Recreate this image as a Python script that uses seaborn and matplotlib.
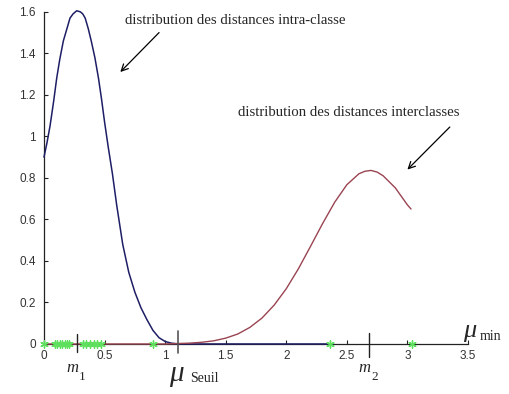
import numpy as np
import pandas as pd
import matplotlib
matplotlib.use("Agg")
import matplotlib.pyplot as plt
import seaborn as sns

# intra-class distance distribution
x_intra = [0.0, 0.025, 0.05, 0.08, 0.105, 0.13, 0.16, 0.19, 0.215, 0.24, 0.27, 0.30,
           0.32, 0.34, 0.365, 0.39, 0.42, 0.45, 0.475, 0.50, 0.53, 0.565, 0.60,
           0.65, 0.70, 0.75, 0.80, 0.85, 0.90, 0.95, 1.00, 1.05, 1.11, 1.5, 2.0, 2.39]
y_intra = [0.90, 0.97, 1.05, 1.17, 1.28, 1.37, 1.46, 1.52, 1.57, 1.59, 1.605, 1.60,
           1.59, 1.57, 1.52, 1.46, 1.38, 1.28, 1.18, 1.07, 0.95, 0.82, 0.67,
           0.48, 0.345, 0.25, 0.175, 0.117, 0.065, 0.03, 0.012, 0.004, 0.0, 0.0, 0.0, 0.0]

# inter-class distance distribution
x_inter = [0.0, 0.5, 1.0, 1.1, 1.2, 1.3, 1.4, 1.5, 1.6, 1.7, 1.8, 1.9, 2.0, 2.1,
           2.2, 2.3, 2.4, 2.5, 2.6, 2.65, 2.7, 2.75, 2.8, 2.9, 3.0, 3.03]
y_inter = [0.0, 0.0, 0.0, 0.002, 0.004, 0.008, 0.015, 0.028, 0.048, 0.08, 0.125,
           0.187, 0.266, 0.362, 0.47, 0.58, 0.683, 0.767, 0.82, 0.832, 0.836, 0.828,
           0.81, 0.752, 0.67, 0.65]

# observed samples on the axis
samples = [0.0, 0.09, 0.11, 0.13, 0.15, 0.17, 0.19, 0.21, 0.32, 0.35, 0.38, 0.41,
           0.44, 0.47, 0.90, 2.36, 3.04]

m1 = 0.27
m2 = 2.68
seuil = 1.11

xticks = [0, 0.5, 1, 1.5, 2, 2.5, 3, 3.5]
xticklabels = ["0", "0.5", "1", "1.5", "2", "2.5", "3", "3.5"]
yticks = [0, 0.2, 0.4, 0.6, 0.8, 1, 1.2, 1.4, 1.6]
yticklabels = ["0", "0.2", "0.4", "0.6", "0.8", "1", "1.2", "1.4", "1.6"]

sns.set_style("ticks")
plt.rcParams["font.family"] = ["Liberation Sans", "DejaVu Sans"]

fig = plt.figure(figsize=(5.09, 3.94), dpi=100)
ax = fig.add_axes([0.0864, 0.127, 0.833, 0.843])

df_intra = pd.DataFrame({"x": x_intra, "y": y_intra})
df_inter = pd.DataFrame({"x": x_inter, "y": y_inter})
df_s = pd.DataFrame({"x": samples, "y": np.zeros(len(samples))})

sns.lineplot(data=df_intra, x="x", y="y", ax=ax, color="#1e1e66", linewidth=1.1,
             sort=False, estimator=None, zorder=3)
sns.lineplot(data=df_inter, x="x", y="y", ax=ax, color="#9a4452", linewidth=1.0,
             sort=False, estimator=None, zorder=4)
for ln in ax.lines:
    ln.set_clip_on(False)
sns.scatterplot(data=df_s, x="x", y="y", ax=ax, marker=(6, 2, 0), s=28,
                color="#5ee05e", linewidth=1.0, zorder=5, clip_on=False)

ax.set_xlim(0, 3.5)
ax.set_ylim(0, 1.6)
ax.set_xticks(xticks)
ax.set_xticklabels(xticklabels)
ax.set_yticks(yticks)
ax.set_yticklabels(yticklabels)
ax.set_xlabel("")
ax.set_ylabel("")
ax.tick_params(direction="in", length=3, width=0.8, labelsize=8.5,
               labelcolor="#333333", color="#222222")
ax.tick_params(axis="x", pad=4)
ax.tick_params(axis="y", pad=6)
for side in ["top", "right"]:
    ax.spines[side].set_visible(False)
for side in ["left", "bottom"]:
    ax.spines[side].set_linewidth(0.9)
    ax.spines[side].set_color("#222222")

# markers for m1, m2 and the threshold
ax.plot([m1, m1], [-0.039, 0.049], color="#222222", lw=1.0, clip_on=False, zorder=6)
ax.plot([seuil, seuil], [-0.044, 0.063], color="#555555", lw=1.2, clip_on=False, zorder=6)
ax.plot([m2, m2], [-0.063, 0.053], color="#222222", lw=1.0, clip_on=False, zorder=6)

serif = ["Liberation Serif", "DejaVu Serif"]
ax.text(m1 + 0.015, -0.118, "m", fontsize=12, style="italic", family=serif,
        ha="right", va="center")
ax.text(m1 + 0.02, -0.158, "1", fontsize=9.5, family=serif, ha="left", va="center")
ax.text(m2 + 0.015, -0.118, "m", fontsize=12, style="italic", family=serif,
        ha="right", va="center")
ax.text(m2 + 0.02, -0.16, "2", fontsize=9.5, family=serif, ha="left", va="center")
ax.text(seuil - 0.08, -0.18, "μ", fontsize=21, style="italic", family=serif,
        ha="left", va="baseline")
ax.text(seuil + 0.1, -0.185, "Seuil", fontsize=10, family=serif,
        ha="left", va="baseline")
ax.text(3.46, 0.035, "μ", fontsize=19, style="italic", family=serif,
        ha="left", va="baseline", clip_on=False)
ax.text(3.6, 0.02, "min", fontsize=10, family=serif, ha="left", va="baseline",
        clip_on=False)

ax.text(0.67, 1.56, "distribution des distances intra-classe", fontsize=10.6,
        family=serif, ha="left", va="center")
ax.annotate("", xy=(0.63, 1.31), xytext=(0.95, 1.5),
            arrowprops=dict(arrowstyle="->", color="black", lw=0.9,
                            shrinkA=0, shrinkB=0, mutation_scale=12))
ax.text(1.6, 1.115, "distribution des distances interclasses", fontsize=10.6,
        family=serif, ha="left", va="center")
ax.annotate("", xy=(3.0, 0.84), xytext=(3.35, 1.045),
            arrowprops=dict(arrowstyle="->", color="black", lw=0.9,
                            shrinkA=0, shrinkB=0, mutation_scale=12))

fig.savefig("out.png", dpi=100, facecolor="white")
